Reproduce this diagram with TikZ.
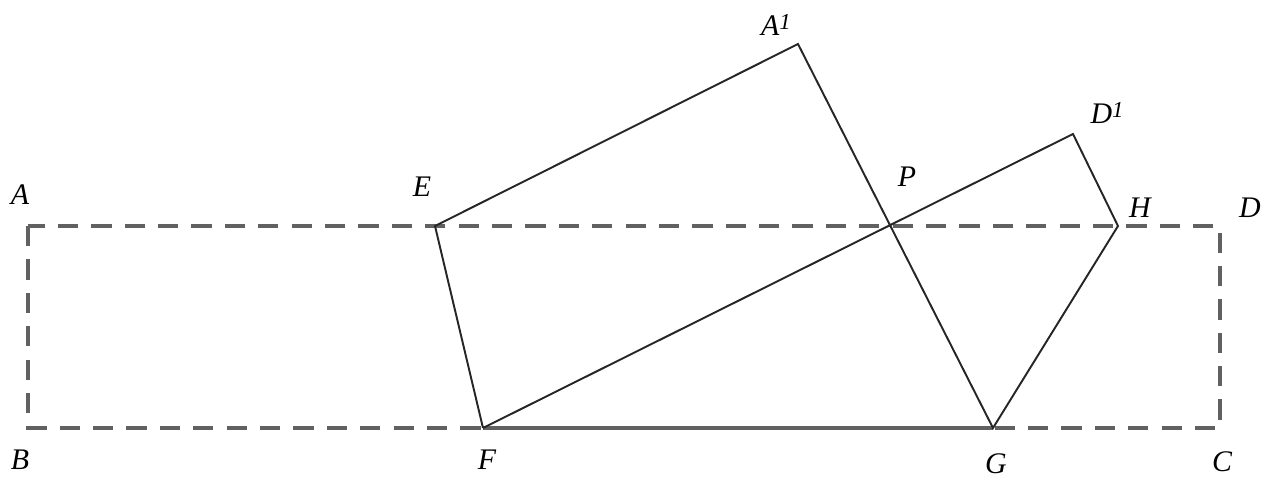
\documentclass[tikz,border=0pt]{standalone}
\usepackage{fontspec}
\setmainfont{Liberation Serif}
\usepackage{tkz-euclide}
\usetikzlibrary{positioning}
\definecolor{frame}{rgb}{0.38,0.38,0.38}

\begin{document}
\begin{tikzpicture}[
  edge/.style = {line width=1.1pt, color=black!85},
  fold/.style = {line width=1.8pt, color=frame, dash pattern=on 11.5pt off 7.5pt},
  lbl/.style = {font=\fontsize{17}{20}\selectfont\itshape, inner sep=0pt},
]

  \useasboundingbox (0,0) rectangle (25.56,9.76);

  % rectangle
  \tkzDefPoint(0.56,5.24){A}
  \tkzDefPoint(0.56,1.20){B}
  \tkzDefPoint(24.40,1.20){C}
  \tkzDefPoint(24.40,5.24){D}

  % folded part
  \tkzDefPoint(8.70,5.24){E}
  \tkzDefPoint(9.66,1.20){F}
  \tkzDefPoint(19.86,1.20){G}
  \tkzDefPoint(22.36,5.24){H}
  \tkzDefPoint(15.96,8.88){A1}
  \tkzDefPoint(21.46,7.08){D1}
  \tkzDefPoint(17.80,5.24){P}

  \draw[fold] (A) -- (B) -- (C) -- (D) -- cycle;
  \draw[fold, solid] (F) -- (G);

  \draw[edge] (F) -- (E) -- (A1) -- (G) -- (H) -- (D1) -- (F);

  \node[lbl] (lA) at (0.40,5.86) {A};
  \node[lbl] (lB) at (0.40,0.56) {B};
  \node[lbl] (lC) at (24.44,0.52) {C};
  \node[lbl] (lD) at (25.00,5.60) {D};
  \node[lbl] (lE) at (8.44,6.02) {E};
  \node[lbl] (lF) at (9.74,0.56) {F};
  \node[lbl] (lG) at (19.92,0.48) {G};
  \node[lbl] (lH) at (22.80,5.60) {H};
  \node[lbl] (lP) at (18.14,6.22) {P};
  \node[lbl] (lA1) at (15.52,9.26) {A\raisebox{0.45ex}{\fontsize{13}{15}\selectfont 1}};
  \node[lbl] (lD1) at (22.14,7.50) {D\raisebox{0.45ex}{\fontsize{13}{15}\selectfont 1}};

\end{tikzpicture}
\end{document}
